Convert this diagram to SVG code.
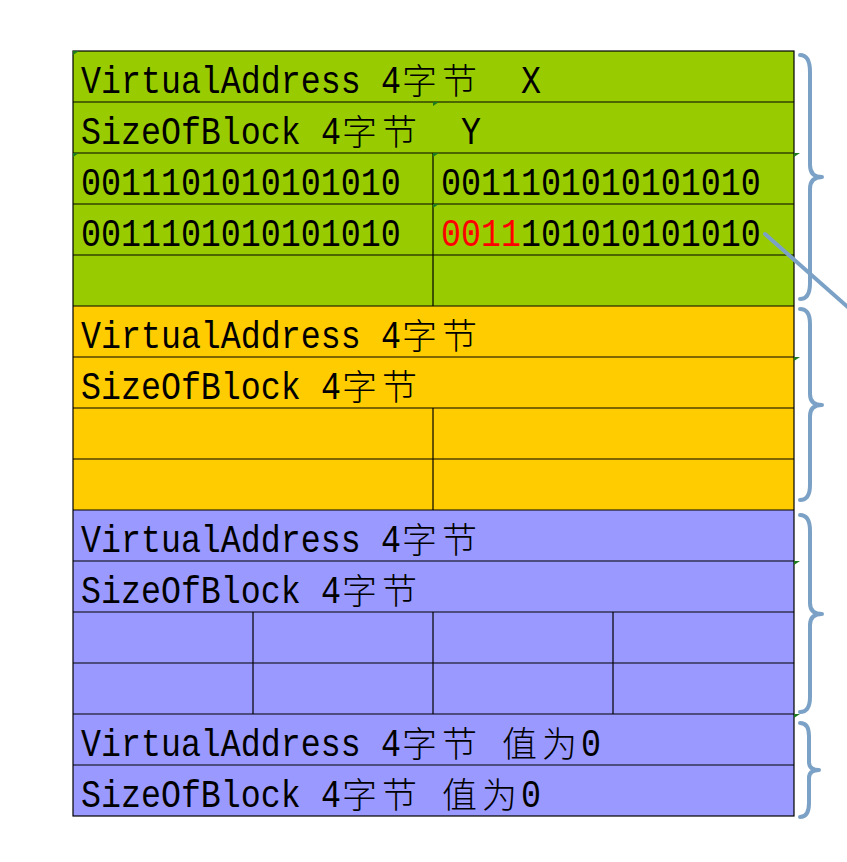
<svg xmlns="http://www.w3.org/2000/svg" width="847" height="862" viewBox="0 0 847 862">
<style>
.g{fill:#99CC00}.o{fill:#FFCC00}.p{fill:#9999FF}
.ln{stroke:#000;stroke-width:1.2;fill:none}
.t{font-family:"Liberation Mono",monospace;font-size:33.3px;fill:#000}
.c{font-family:"Noto Sans CJK SC",sans-serif;font-size:35px;fill:#000;font-weight:300}
.r{fill:#FF0000}
.br{fill:none;stroke:#7BA2C6;stroke-width:4;stroke-linecap:round;stroke-linejoin:round}
.mk{fill:#1E7A1E}
</style>
<rect width="847" height="862" fill="#fff"/>
<g id="block1">
<rect class="g" x="73" y="51" width="721" height="255"/>
<path class="ln" d="M73 102H794M73 153H794M73 204H794M73 255H794M433 153V306"/>
<text class="t" transform="translate(81 93) scale(1 1.18)">VirtualAddress <tspan x="300">4</tspan><tspan x="440">X</tspan></text>
<text class="c" x="402 442" y="94">字节</text>
<text class="t" transform="translate(81 144) scale(1 1.18)">SizeOfBlock <tspan x="240">4</tspan><tspan x="380">Y</tspan></text>
<text class="c" x="342 382" y="145">字节</text>
<text class="t" transform="translate(81 195) scale(1 1.18)">0011101010101010</text>
<text class="t" transform="translate(441 195) scale(1 1.18)">0011101010101010</text>
<text class="t" transform="translate(81 246) scale(1 1.18)">0011101010101010</text>
<text class="t" transform="translate(441 246) scale(1 1.18)"><tspan class="r">0011</tspan>101010101010</text>
</g>
<g id="block2">
<rect class="o" x="73" y="306" width="721" height="204"/>
<path class="ln" d="M73 306H794M73 357H794M73 408H794M73 459H794M433 408V510"/>
<text class="t" transform="translate(81 348) scale(1 1.18)">VirtualAddress <tspan x="300">4</tspan></text>
<text class="c" x="402 442" y="349">字节</text>
<text class="t" transform="translate(81 399) scale(1 1.18)">SizeOfBlock <tspan x="240">4</tspan></text>
<text class="c" x="342 382" y="400">字节</text>
</g>
<g id="block3">
<rect class="p" x="73" y="510" width="721" height="204"/>
<path class="ln" d="M73 510H794M73 561H794M73 612H794M73 663H794M253 612V714M433 612V714M613 612V714"/>
<text class="t" transform="translate(81 552) scale(1 1.18)">VirtualAddress <tspan x="300">4</tspan></text>
<text class="c" x="402 442" y="553">字节</text>
<text class="t" transform="translate(81 603) scale(1 1.18)">SizeOfBlock <tspan x="240">4</tspan></text>
<text class="c" x="342 382" y="604">字节</text>
</g>
<g id="block4">
<rect class="p" x="73" y="714" width="721" height="102"/>
<path class="ln" d="M73 714H794M73 765H794"/>
<text class="t" transform="translate(81 756) scale(1 1.18)">VirtualAddress <tspan x="300">4</tspan><tspan x="500">0</tspan></text>
<text class="c" x="402 442" y="757">字节</text>
<text class="c" x="502 542" y="757">值为</text>
<text class="t" transform="translate(81 807) scale(1 1.18)">SizeOfBlock <tspan x="240">4</tspan><tspan x="440">0</tspan></text>
<text class="c" x="342 382" y="808">字节</text>
<text class="c" x="442 482" y="808">值为</text>
</g>
<rect class="ln" x="73" y="51" width="721" height="765"/>
<g id="marks">
<path class="mk" d="M73 51h6l-6 4z"/>
<path class="mk" d="M433 102h6l-6 4z"/>
<path class="mk" d="M73 153h6l-6 4z"/>
<path class="mk" d="M433 153h6l-6 4z"/>
<path class="mk" d="M794 153h6l-6 4z"/>
<path class="mk" d="M433 204h6l-6 4z"/>
<path class="mk" d="M794 357h6l-6 4z"/>
<path class="mk" d="M794 561h6l-6 4z"/>
<path class="mk" d="M794 714h6l-6 4z"/>
</g>
<g id="connectors">
<path class="br" d="M800 55Q810 55 810 72L810 165Q810 177 822 177Q810 177 810 189L810 283Q810 299 800 299"/>
<path class="br" d="M800 309Q810 309 810 324L810 394Q810 405 822 405Q810 405 810 416L810 485Q810 500 800 500"/>
<path class="br" d="M800 515Q810 515 810 531L810 603Q810 614 822 614Q810 614 810 625L810 697Q810 712 800 712"/>
<path class="br" d="M800 723Q809 723 809 736L809 762Q809 770 819 770Q809 770 809 778L809 803Q809 817 800 817"/>
<path class="br" d="M765 234L850 309"/>
</g>
</svg>
